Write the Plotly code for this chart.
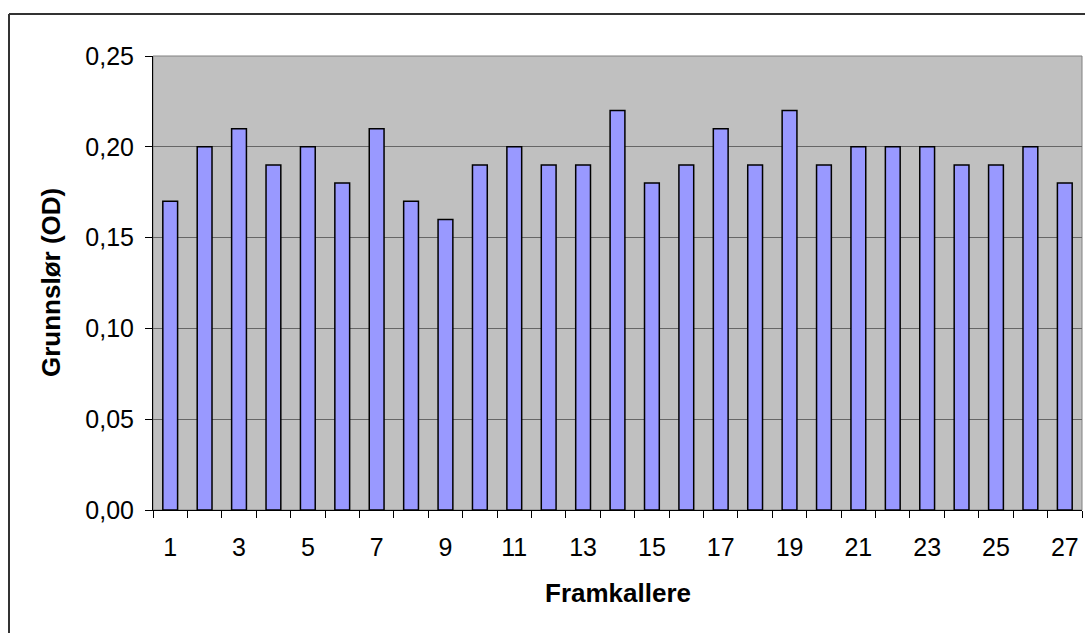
import plotly.graph_objects as go

# Grunnslør (OD) per framkaller
framkallere = list(range(1, 28))
grunnslor = [0.17, 0.20, 0.21, 0.19, 0.20, 0.18, 0.21, 0.17, 0.16, 0.19,
             0.20, 0.19, 0.19, 0.22, 0.18, 0.19, 0.21, 0.19, 0.22, 0.19,
             0.20, 0.20, 0.20, 0.19, 0.19, 0.20, 0.18]
label_vals = list(range(1, 28, 2))
y_ticks = [0.0, 0.05, 0.10, 0.15, 0.20, 0.25]

W, H = 1085, 633
L, R, T, B = 153, 3, 56, 123
pw, ph = W - L - R, H - T - B

fig = go.Figure()
fig.add_trace(go.Bar(
    x=framkallere, y=grunnslor, width=0.43,
    marker=dict(color="#9999FF", line=dict(color="#000000", width=1.5)),
    xaxis="x", yaxis="y", hoverinfo="x+y",
))
# invisible trace anchoring the boundary-tick axis
fig.add_trace(go.Scatter(x=[0.5], y=[0], xaxis="x2", yaxis="y",
                         mode="markers", marker=dict(opacity=0),
                         showlegend=False, hoverinfo="skip"))

fig.update_layout(
    width=W, height=H,
    margin=dict(l=L, r=R, t=T, b=B),
    paper_bgcolor="white",
    plot_bgcolor="#C0C0C0",
    separators=", ",
    showlegend=False,
    font=dict(family="Liberation Sans, Arial", size=25, color="black"),
    xaxis=dict(
        range=[0.5, 27.5], tickvals=label_vals, ticktext=[str(v) for v in label_vals],
        ticks="", showgrid=False, zeroline=False,
        showline=True, linecolor="#000000", linewidth=1,
        ticklabelstandoff=15, mirror=False,
    ),
    xaxis2=dict(
        range=[0.5, 27.5], overlaying="x", side="bottom",
        tickvals=[i + 0.5 for i in range(0, 28)], ticktext=[""] * 28,
        ticks="outside", ticklen=7, tickcolor="#000000", tickwidth=1,
        showgrid=False, zeroline=False, showline=False,
    ),
    yaxis=dict(
        range=[0, 0.25], tickvals=y_ticks, tickformat=".2f",
        ticks="outside", ticklen=7, tickcolor="#000000",
        showgrid=True, gridcolor="#666666", gridwidth=1,
        zeroline=False, showline=True, linecolor="#000000", linewidth=1,
        ticklabelstandoff=6,
    ),
    shapes=[
        # plot-area frame
        dict(type="rect", xref="paper", yref="paper", x0=0, x1=1, y0=0, y1=1,
             line=dict(color="#808080", width=1), layer="below"),
        # outer chart border (left and top edges)
        dict(type="line", xref="paper", yref="paper",
             x0=(9 - L) / pw, x1=(9 - L) / pw, y0=(T + ph - 14) / ph, y1=-(B + 10) / ph,
             line=dict(color="#333333", width=2)),
        dict(type="line", xref="paper", yref="paper",
             x0=(9 - L) / pw, x1=1.02, y0=(T + ph - 14) / ph, y1=(T + ph - 14) / ph,
             line=dict(color="#333333", width=2)),
    ],
    annotations=[
        dict(text="<b>Framkallere</b>", xref="paper", yref="paper",
             x=0.5, y=-(593 - (T + ph)) / ph, xanchor="center", yanchor="middle",
             showarrow=False, font=dict(size=26)),
        dict(text="<b>Grunnslør (OD)</b>", xref="paper", yref="paper",
             x=(51 - L) / pw, y=0.5, xanchor="center", yanchor="middle",
             textangle=-90, showarrow=False, font=dict(size=26)),
    ],
)

fig.write_html("out.html")
